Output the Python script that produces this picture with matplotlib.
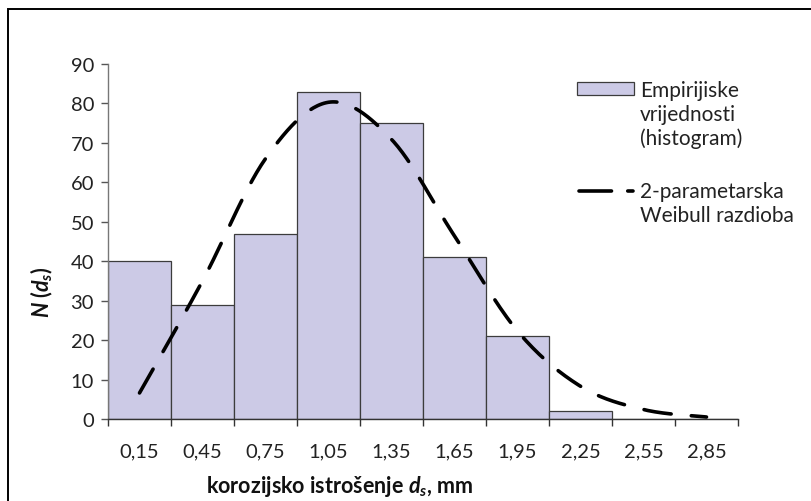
import numpy as np
import matplotlib.pyplot as plt
from matplotlib.patches import Rectangle
from matplotlib.lines import Line2D

plt.rcParams['font.family'] = ['Lato', 'DejaVu Sans']
plt.rcParams['mathtext.fontset'] = 'custom'
plt.rcParams['mathtext.it'] = 'Lato:bold:italic'
plt.rcParams['mathtext.rm'] = 'Lato:bold'

# data
categories = ['0,15', '0,45', '0,75', '1,05', '1,35', '1,65', '1,95', '2,25', '2,55', '2,85']
empirical = [40, 29, 47, 83, 75, 41, 21, 2, 0, 0]
weibull = [6.6, 35, 66, 80.3, 70.9, 46.4, 22.3, 8.3, 2.4, 0.5]

W, H = 812, 502
fig = plt.figure(figsize=(W / 100, H / 100), dpi=100)
ax = fig.add_axes([108 / W, 1 - 420 / H, 630 / W, 355 / H])


def px(x, y):
    # pixel position (from top left) -> figure fraction
    return x / W, 1 - y / H


def smooth(xs, ys, n=30):
    # excel style smoothed line (catmull-rom) through the points
    p = np.column_stack([xs, ys]).astype(float)
    p = np.vstack([p[0], p, p[-1]])
    out = []
    for i in range(1, len(p) - 2):
        p0, p1, p2, p3 = p[i - 1], p[i], p[i + 1], p[i + 2]
        t = np.linspace(0, 1, n)[:, None]
        seg = 0.5 * ((2 * p1) + (-p0 + p2) * t + (2 * p0 - 5 * p1 + 4 * p2 - p3) * t ** 2
                     + (-p0 + 3 * p1 - 3 * p2 + p3) * t ** 3)
        out.append(seg if i == 1 else seg[1:])
    out = np.vstack(out)
    return out[:, 0], out[:, 1]


x = np.arange(len(categories))
ax.bar(x, empirical, width=1.0, color='#CCCAE6', edgecolor='#3c3c3c', linewidth=0.9, zorder=2)

sx, sy = smooth(x, weibull)
ax.plot(sx, sy, color='black', lw=2.6, dashes=(7.6, 5.6), dash_capstyle='round', zorder=3)

ax.set_xlim(-0.5, len(categories) - 0.5)
ax.set_ylim(0, 90)
ax.set_yticks(range(0, 91, 10))
ax.set_xticks(np.arange(-0.5, len(categories), 1.0))
ax.set_xticklabels([])
ax.set_xticks(x, minor=True)
ax.set_xticklabels(categories, minor=True)
ax.tick_params(axis='x', which='major', direction='out', length=5, width=1, color='#333333')
ax.tick_params(axis='x', which='minor', length=0, pad=17, labelsize=14.5, labelcolor='#222222')
ax.tick_params(axis='y', direction='out', length=5, width=1, color='#555555', pad=5,
               labelsize=14.5, labelcolor='#222222')
for s in ['top', 'right']:
    ax.spines[s].set_visible(False)
ax.spines['left'].set_color('#777777')
ax.spines['bottom'].set_color('#333333')
ax.spines['left'].set_linewidth(1.0)
ax.spines['bottom'].set_linewidth(1.0)

fig.text(*px(340, 487), 'korozijsko istrošenje $d_s$, mm', ha='center', va='center',
         fontsize=15.5, fontweight='bold', color='#111111')
fig.text(*px(42, 292), r'$N\;(d_s)$', ha='center', va='center', rotation=90,
         fontsize=15.5, color='#111111')

# legend drawn by hand, excel style
x0, y0 = px(577, 96)
x1, y1 = px(634, 83)
fig.add_artist(Rectangle((x0, y0), x1 - x0, y1 - y0, transform=fig.transFigure,
                         facecolor='#CCCAE6', edgecolor='#3c3c3c', lw=0.9))
for i, line in enumerate(['Empirijiske', 'vrijednosti', '(histogram)']):
    fig.text(*px(640, 91 + 24 * i), line, ha='left', va='center', fontsize=15, color='#222222')
lx0, ly = px(579, 192)
lx1, _ = px(633, 192)
fig.add_artist(Line2D([lx0, lx1], [ly, ly], transform=fig.transFigure, color='black',
                      lw=2.6, dashes=(9.0, 4.5), dash_capstyle='round'))
for i, line in enumerate(['2-parametarska', 'Weibull razdioba']):
    fig.text(*px(640, 192 + 24 * i), line, ha='left', va='center', fontsize=15, color='#222222')

# chart frame
bx, by = px(8, 10)
fig.add_artist(Rectangle((bx, -0.1), 1.2, by + 0.1, transform=fig.transFigure,
                         fill=False, edgecolor='black', lw=1.4))

fig.savefig('out.png', dpi=100)
